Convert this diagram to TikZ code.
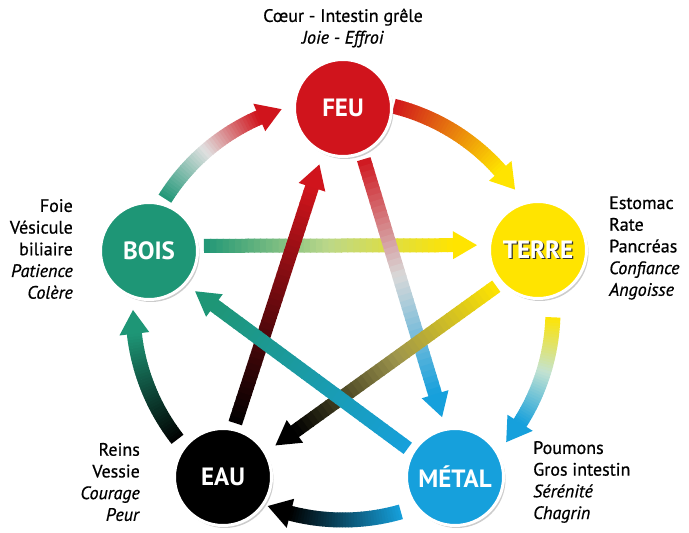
\documentclass[tikz,border=0pt]{standalone}
\usepackage{fontspec}
\setmainfont{PT Sans}
\newfontfamily\semigras{PT Sans}[FakeBold=0.7]
\usetikzlibrary{calc,shadows,backgrounds}

\definecolor{feu}{RGB}{208,20,28}
\definecolor{bois}{RGB}{30,150,118}
\definecolor{terre}{RGB}{255,228,0}
\definecolor{metal}{RGB}{22,160,220}
\definecolor{eau}{RGB}{0,0,0}
% teintes intermediaires
\colorlet{bois-terre}{bois!50!terre!60!white}
\colorlet{feu-metal}{black!15}
\colorlet{terre-eau}{terre!45!black!70!white}
\colorlet{eau-feu}{feu!50!black}
\colorlet{metal-bois}{metal!50!bois}
\colorlet{bois-feu}{black!12}
\colorlet{feu-terre}{feu!50!terre}
\colorlet{terre-metal}{terre!35!metal!40!white}
\colorlet{metal-eau}{metal!50!black}
\colorlet{eau-bois}{bois!50!black}

\tikzset{
  element/.style={circle, minimum size=97pt, inner sep=0pt, draw=white, line width=3pt,
    text=white, font=\bfseries\fontsize{25}{27}\selectfont,
    drop shadow={shadow xshift=2pt, shadow yshift=-2.5pt, fill=black!40}},
  organes/.style={inner sep=0pt, font=\semigras\fontsize{18}{21.7}\selectfont},
}

% texte blanc avec ombre
\newcommand{\ombre}[1]{\makebox[0pt][l]{\kern1.3pt\raisebox{-1.3pt}{\textcolor{black!80}{#1}}}#1}

% morceau droit en degrade
\newcommand{\gradseg}[4]{%
  \foreach \k in {1,...,20}{%
    \pgfmathtruncatemacro\pct{5*\k-2}%
    \pgfmathsetmacro\fa{(\k-1)/20}%
    \pgfmathsetmacro\fb{(\k+0.2)/20}%
    \colorlet{segcol}{#4!\pct!#3}%
    \draw[segcol, line width=14pt] ($(#1)!\fa!(#2)$) -- ($(#1)!\fb!(#2)$);
  }}

% morceau d'arc en degrade
\newcommand{\gradarc}[4]{%
  \foreach \k in {1,...,20}{%
    \pgfmathtruncatemacro\pct{5*\k-2}%
    \pgfmathsetmacro\angA{#1+(#2-#1)*(\k-1)/20}%
    \pgfmathsetmacro\angB{#1+(#2-#1)*(\k+0.2)/20}%
    \colorlet{segcol}{#4!\pct!#3}%
    \draw[segcol, line width=15pt] ($(ctr)+(\angA:210)$) arc[start angle=\angA, end angle=\angB, radius=210];
  }}

% fleche exterieure (engendrement)
\newcommand{\engendre}[5]{%
  \pgfmathsetmacro\angH{#2+6.5}%
  \pgfmathsetmacro\angM{(#1+\angH)/2}%
  \gradarc{#1}{\angM}{#3}{#4}
  \gradarc{\angM}{\angH}{#4}{#5}
  \fill[#5] ($(ctr)+(\angH:225)$) -- ($(ctr)+(#2:210)$) -- ($(ctr)+(\angH:195)$) -- cycle;
}

% fleche de l'etoile (domination)
\newcommand{\domine}[5]{%
  \path ($(#1)!55pt!(#2)$) coordinate (p0) ($(#2)!61pt!(#1)$) coordinate (p1);
  \path ($(p0)!5pt!90:(p1)$) coordinate (a0) ($(p1)!5pt!-90:(p0)$) coordinate (a1);
  \path ($(a1)!24pt!(a0)$) coordinate (h) ($(a0)!0.5!(h)$) coordinate (m);
  \gradseg{a0}{m}{#3}{#4}
  \gradseg{m}{h}{#4}{#5}
  \fill[#5] ($(h)!14pt!90:(a1)$) -- (a1) -- ($(h)!14pt!-90:(a1)$) -- cycle;
}

\begin{document}
\begin{tikzpicture}[x=1pt, y=1pt]
\useasboundingbox (0,0) rectangle (689,533);
\coordinate (ctr) at (343,223);

% les cinq elements
\node[element, fill=feu] (feu) at (343,425) {FEU};
\node[element, fill=terre] (terre) at (538,283) {\ombre{TERRE}};
\node[element, fill=metal] (metal) at (455,56) {MÉTAL};
\node[element, fill=eau] (eau) at (223,56) {EAU};
\node[element, fill=bois] (bois) at (149,282) {BOIS};

% textes
\node[organes, align=center] (feu-txt) at (343,505) {Cœur - Intestin grêle\\\textit{Joie - Effroi}};
\node[organes, align=left, anchor=west] (terre-txt) at (609,285) {Estomac\\Rate\\Pancréas\\\textit{Confiance}\\\textit{Angoisse}};
\node[organes, align=left, anchor=west] (metal-txt) at (533,51) {Poumons\\Gros intestin\\\textit{Sérénité}\\\textit{Chagrin}};
\node[organes, align=right, anchor=east] (eau-txt) at (140,51) {Reins\\Vessie\\\textit{Courage}\\\textit{Peur}};
\node[organes, align=right, anchor=east] (bois-txt) at (73,284) {Foie\\Vésicule\\biliaire\\\textit{Patience}\\\textit{Colère}};

\begin{scope}[on background layer]
  % etoile
  \domine{bois}{terre}{bois}{bois-terre}{terre}
  \domine{feu}{metal}{feu}{feu-metal}{metal}
  \domine{terre}{eau}{terre}{terre-eau}{eau}
  \domine{eau}{feu}{eau}{eau-feu}{feu}
  \domine{metal}{bois}{metal}{metal-bois}{bois}
  % cycle exterieur
  \engendre{148}{107}{bois}{bois-feu}{feu}
  \engendre{76}{35}{feu}{feu-terre}{terre}
  \engendre{-2}{-39}{terre}{terre-metal}{metal}
  \engendre{-74}{-111}{metal}{metal-eau}{eau}
  \engendre{218}{180}{eau}{eau-bois}{bois}
\end{scope}
\end{tikzpicture}
\end{document}
